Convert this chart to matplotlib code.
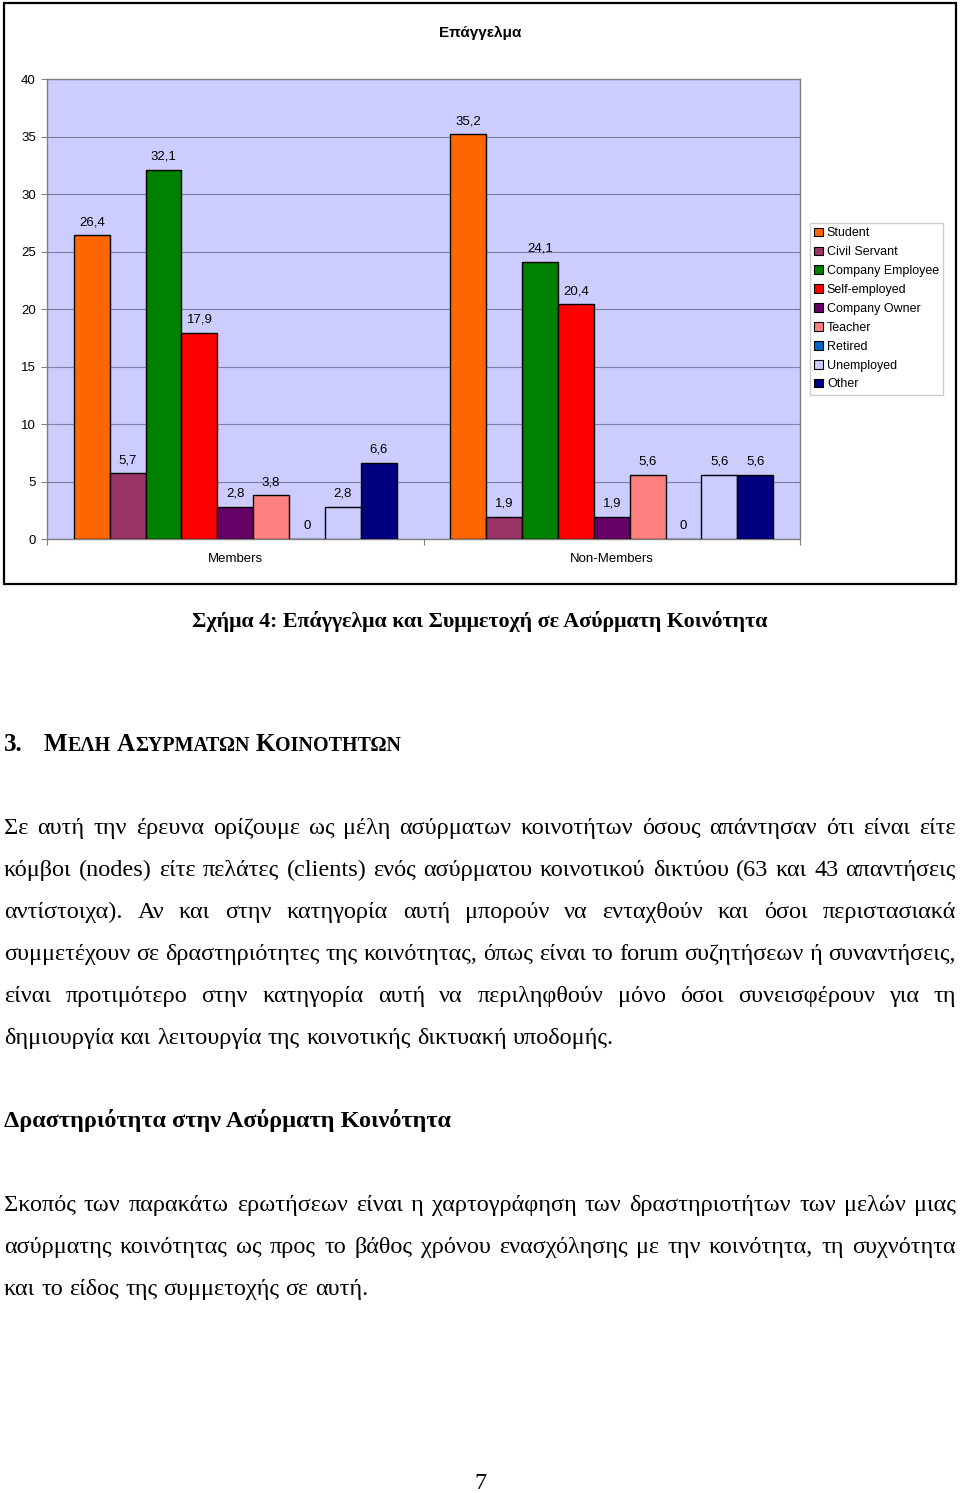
import matplotlib
matplotlib.use("Agg")
import matplotlib.pyplot as plt
from matplotlib.patches import Patch, Rectangle
import numpy as np

# ==========================================
# Data
# ==========================================
groups = ["Members", "Non-Members"]
occupations = ["Student", "Civil Servant", "Company Employee", "Self-employed",
               "Company Owner", "Teacher", "Retired", "Unemployed", "Other"]
members = [26.4, 5.7, 32.1, 17.9, 2.8, 3.8, 0, 2.8, 6.6]
non_members = [35.2, 1.9, 24.1, 20.4, 1.9, 5.6, 0, 5.6, 5.6]
colors = ["#FF6600", "#993366", "#008000", "#FF0000", "#660066",
          "#FF8080", "#0066CC", "#CCCCFF", "#000080"]
y_ticks = [0, 5, 10, 15, 20, 25, 30, 35, 40]

chart_title = "Επάγγελμα"
caption = "Σχήμα 4: Επάγγελμα και Συμμετοχή σε Ασύρματη Κοινότητα"
section_words = ["ΜΕΛΗ", "ΑΣΥΡΜΑΤΩΝ", "ΚΟΙΝΟΤΗΤΩΝ"]
para1 = [
    "Σε αυτή την έρευνα ορίζουμε ως μέλη ασύρματων κοινοτήτων όσους απάντησαν ότι είναι είτε",
    "κόμβοι (nodes) είτε πελάτες (clients) ενός ασύρματου κοινοτικού δικτύου (63 και 43 απαντήσεις",
    "αντίστοιχα). Αν και στην κατηγορία αυτή μπορούν να ενταχθούν και όσοι περιστασιακά",
    "συμμετέχουν σε δραστηριότητες της κοινότητας, όπως είναι το forum συζητήσεων ή συναντήσεις,",
    "είναι προτιμότερο στην κατηγορία αυτή να περιληφθούν μόνο όσοι συνεισφέρουν για τη",
    "δημιουργία και λειτουργία της κοινοτικής δικτυακή υποδομής.",
]
subheading = "Δραστηριότητα στην Ασύρματη Κοινότητα"
para2 = [
    "Σκοπός των παρακάτω ερωτήσεων είναι η χαρτογράφηση των δραστηριοτήτων των μελών μιας",
    "ασύρματης κοινότητας ως προς το βάθος χρόνου ενασχόλησης με την κοινότητα, τη συχνότητα",
    "και το είδος της συμμετοχής σε αυτή.",
]
page_number = "7"

# ==========================================
# Setup
# ==========================================
W, H = 960, 1493
SANS = ["Liberation Sans", "DejaVu Sans"]
SERIF = ["Liberation Serif", "DejaVu Serif"]
BODY = 17.5

fig = plt.figure(figsize=(W / 100, H / 100), dpi=100)
fig.patch.set_facecolor("white")
renderer = fig.canvas.get_renderer()


def fx(x):
    return x / W


def fy(y):
    return 1 - y / H


# chart frame
fig.patches.append(Rectangle((fx(4), fy(584)), fx(952), 581 / H, transform=fig.transFigure,
                             fill=False, edgecolor="black", linewidth=1.6))

# ==========================================
# Bar chart
# ==========================================
ax = fig.add_axes([fx(47), fy(539), fx(800 - 47), 460 / H])
ax.set_facecolor("#CCCCFF")
n = len(occupations)
width = 1 / 10.5
x = np.arange(len(groups))
for i, (occ, col) in enumerate(zip(occupations, colors)):
    vals = [members[i], non_members[i]]
    pos = x + (i - (n - 1) / 2) * width
    ax.bar(pos, vals, width, color=col, edgecolor="black", linewidth=1.0, zorder=3,
           label=occ)
    for p, v in zip(pos, vals):
        lbl = ("%.1f" % v).replace(".", ",") if v else "0"
        ax.annotate(lbl, (p, v), xytext=(0, 9.5), textcoords="offset points",
                    ha="center", va="center", fontsize=9.5, family=SANS)

ax.set_ylim(0, 40)
ax.set_xlim(-0.5, 1.5)
ax.set_yticks(y_ticks)
ax.set_yticklabels([str(t) for t in y_ticks], family=SANS, fontsize=9.5)
ax.yaxis.grid(True, color="#8080A0", linewidth=0.8, zorder=0)
ax.set_axisbelow(True)
ax.set_xticks([-0.5, 0.5, 1.5])
ax.set_xticklabels(["", "", ""])
ax.set_xticks(x, minor=True)
ax.set_xticklabels(groups, minor=True, family=SANS, fontsize=9.5)
ax.tick_params(axis="x", which="minor", length=0, pad=10)
ax.tick_params(axis="x", which="major", length=4, color="#808080")
ax.tick_params(axis="y", length=4, color="#808080", pad=4)
for s in ax.spines.values():
    s.set_color("#808080")
    s.set_linewidth(1.0)

fig.text(fx(480), fy(33), chart_title, ha="center", va="center", fontsize=11,
         fontweight="bold", family=SANS)

handles = [Patch(facecolor=c, edgecolor="black", linewidth=0.8, label=o)
           for o, c in zip(occupations, colors)]
leg = fig.legend(handles=handles, loc="upper left", bbox_to_anchor=(fx(810), fy(223)),
                 frameon=True, fancybox=False, edgecolor="#C0C0C0",
                 prop={"family": SANS, "size": 9}, handlelength=0.7, handleheight=0.7,
                 handletextpad=0.3, labelspacing=0.55, borderpad=0.35, borderaxespad=0)
leg.get_frame().set_linewidth(1.0)

# ==========================================
# Document text
# ==========================================
def text_width(s, size, weight="normal"):
    t = fig.text(0, 0, s, fontsize=size, family=SERIF, fontweight=weight)
    w = t.get_window_extent(renderer).width
    t.remove()
    return w


def put_line(line, y_base, size=BODY, justify=True, x0=4, x1=956):
    words = line.split(" ")
    widths = [text_width(w, size) for w in words]
    if justify and len(words) > 1:
        gap = (x1 - x0 - sum(widths)) / (len(words) - 1)
    else:
        gap = text_width("a a", size) - text_width("aa", size)
    xx = x0
    for w, wd in zip(words, widths):
        fig.text(fx(xx), fy(y_base), w, fontsize=size, family=SERIF,
                 ha="left", va="baseline")
        xx += wd + gap


fig.text(fx(480), fy(627), caption, ha="center", va="baseline", fontsize=15.8,
         fontweight="bold", family=SERIF)

# section heading in small caps
HEAD = 18
fig.text(fx(4), fy(751), "3.", ha="left", va="baseline", fontsize=HEAD,
         fontweight="bold", family=SERIF)
xx = 44
for word in section_words:
    for seg, sz in [(word[0], HEAD), (word[1:], HEAD * 0.8)]:
        fig.text(fx(xx), fy(751), seg, ha="left", va="baseline", fontsize=sz,
                 fontweight="bold", family=SERIF)
        xx += text_width(seg, sz, "bold")
    xx += text_width("a a", HEAD, "bold") - text_width("aa", HEAD, "bold")

base = 834
for k, line in enumerate(para1):
    put_line(line, base + 42 * k, justify=(k < len(para1) - 1))

fig.text(fx(4), fy(1127), subheading, ha="left", va="baseline", fontsize=BODY,
         fontweight="bold", family=SERIF)

base = 1211
for k, line in enumerate(para2):
    put_line(line, base + 42 * k, justify=(k < len(para2) - 1))

fig.text(fx(480), fy(1489), page_number, ha="center", va="baseline", fontsize=BODY,
         family=SERIF)

fig.savefig("out.png", dpi=100)
